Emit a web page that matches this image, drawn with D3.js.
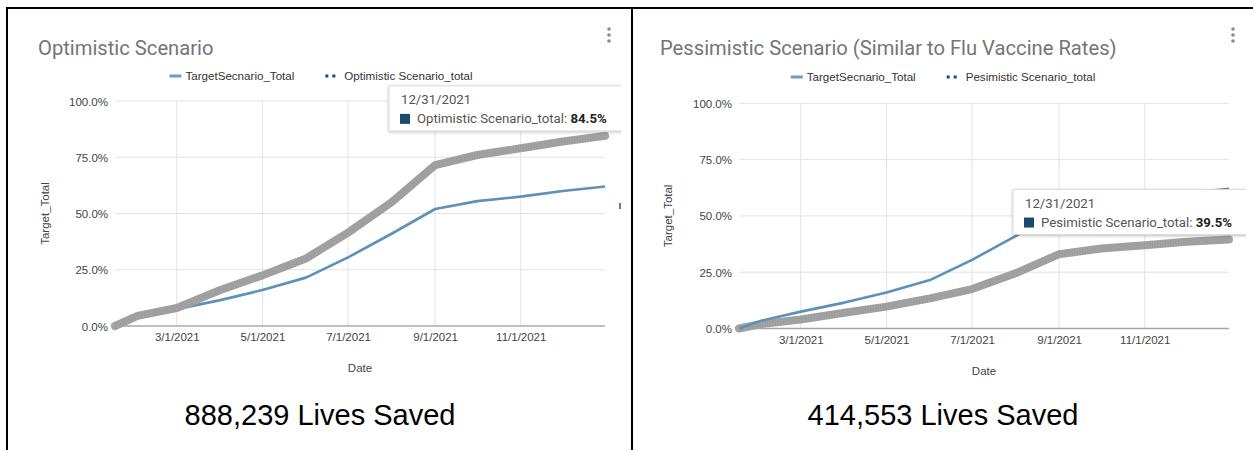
<!DOCTYPE html>
<html>
<head>
<meta charset="utf-8">
<script src="https://cdn.jsdelivr.net/npm/d3@7"></script>
<style>
  html, body { margin: 0; padding: 0; background: #fff; }
  svg { display: block; }
  .axis text { font-family: "Liberation Sans", Arial, sans-serif; font-size: 11.5px; fill: #444; }
</style>
</head>
<body>
<svg id="page" width="1253" height="450"></svg>
<script>
// Monthly snapshots of cumulative vaccination share (% of population)
const dates = ["2021-01-16", "2021-02-01", "2021-03-01", "2021-04-01", "2021-05-01", "2021-06-01",
               "2021-07-01", "2021-08-01", "2021-09-01", "2021-10-01", "2021-11-01", "2021-12-01", "2021-12-31"];
const targetScenarioTotal = [0, 3.5, 7.5, 11.5, 16, 21.5, 30.5, 41, 52, 55.5, 57.5, 60, 62];
const optimisticTotal     = [0, 4.5, 8, 16, 22.5, 30, 41.5, 55, 71.5, 76, 79, 82, 84.5];
const pessimisticTotal    = [0, 2, 4, 7, 9.7, 13.4, 17.5, 24.5, 33, 35.5, 37, 38.5, 39.5];

const xTickDates = ["2021-03-01", "2021-05-01", "2021-07-01", "2021-09-01", "2021-11-01"];
const yTickValues = [0, 25, 50, 75, 100];

const chartTitles = ["Optimistic Scenario", "Pessimistic Scenario (Similar to Flu Vaccine Rates)"];
const targetLegend = "TargetSecnario_Total";
const scenarioLegends = ["Optimistic Scenario_total", "Pesimistic Scenario_total"];
const livesSaved = [888239, 414553];

const parse = d3.timeParse("%Y-%m-%d");
const fmtDate = d3.timeFormat("%-m/%-d/%Y");
const fmtPct = d => d.toFixed(1) + "%";

const svg = d3.select("#page");

// drop shadow for the hover card
const defs = svg.append("defs");
const f = defs.append("filter").attr("id", "shadow").attr("x", "-10%").attr("y", "-30%")
  .attr("width", "130%").attr("height", "170%");
f.append("feDropShadow").attr("dx", 0).attr("dy", 1).attr("stdDeviation", 1.6)
  .attr("flood-color", "#000").attr("flood-opacity", 0.28);

// table frame
svg.append("line").attr("x1", 7).attr("x2", 1253).attr("y1", 8).attr("y2", 8)
  .attr("stroke", "#000").attr("stroke-width", 2);
[7, 632].forEach(x => svg.append("line").attr("x1", x).attr("x2", x).attr("y1", 7).attr("y2", 450)
  .attr("stroke", "#000").attr("stroke-width", 2));

const layouts = [
  { card: [9, 621], plot: [115, 605], y0: 326, y100: 101, titleX: 38, titleY: 55, legendY: 76,
    legendCx: 321, kebabX: 609, xTickY: 342, dateY: 372, yTitleX: 45, cellCx: 320 },
  { card: [634, 1246], plot: [739, 1229], y0: 328.5, y100: 103.3, titleX: 660, titleY: 55, legendY: 77,
    legendCx: 943, kebabX: 1233, xTickY: 345, dateY: 375, yTitleX: 668, cellCx: 943 }
];
const scenarios = [optimisticTotal, pessimisticTotal];

layouts.forEach((L, i) => {
  const series = scenarios[i];
  const clipId = "card" + i;
  defs.append("clipPath").attr("id", clipId).append("rect")
    .attr("x", L.card[0]).attr("y", 9).attr("width", L.card[1] - L.card[0]).attr("height", 385);

  const g = svg.append("g").attr("clip-path", `url(#${clipId})`);

  const x = d3.scaleTime().domain(d3.extent(dates, parse)).range(L.plot);
  const y = d3.scaleLinear().domain([0, 100]).range([L.y0, L.y100]);

  // title
  g.append("text").attr("x", L.titleX).attr("y", L.titleY)
    .style("font-family", "Roboto, sans-serif").style("font-size", "20.2px").style("fill", "#757575")
    .text(chartTitles[i]);

  // menu dots
  [29, 35, 41].forEach(cy => g.append("circle").attr("cx", L.kebabX).attr("cy", cy).attr("r", 1.8).attr("fill", "#8a8a8a"));

  // legend
  const lg = g.append("g").attr("transform", `translate(0,${L.legendY})`);
  const legendFont = s => s.style("font-family", "\"Liberation Sans\", Arial, sans-serif").style("font-size", "11.6px").style("fill", "#333");
  const t1 = lg.append("text").attr("y", 4).text(targetLegend).call(legendFont);
  const t2 = lg.append("text").attr("y", 4).text(scenarioLegends[i]).call(legendFont);
  const w1 = t1.node().getComputedTextLength(), w2 = t2.node().getComputedTextLength();
  const total = 16 + w1 + 31 + 19 + w2;
  let lx = L.legendCx - total / 2;
  lg.append("rect").attr("x", lx).attr("y", -1.5).attr("width", 12).attr("height", 3).attr("fill", "#6b9cc4");
  t1.attr("x", lx + 16);
  lx += 16 + w1 + 31;
  [0, 7].forEach(dx => lg.append("rect").attr("x", lx + dx).attr("y", -1.5).attr("width", 3).attr("height", 3).attr("fill", "#1d4a6c"));
  t2.attr("x", lx + 19);

  // grid
  g.append("g").selectAll("line").data(yTickValues.slice(1)).join("line")
    .attr("x1", L.plot[0]).attr("x2", L.plot[1]).attr("y1", d => y(d)).attr("y2", d => y(d))
    .attr("stroke", "#e3e3e3").attr("stroke-width", 1);
  g.append("g").selectAll("line").data(xTickDates.map(parse)).join("line")
    .attr("x1", d => x(d)).attr("x2", d => x(d)).attr("y1", y(100)).attr("y2", y(0))
    .attr("stroke", "#e3e3e3").attr("stroke-width", 1);

  // axes
  const yAxis = g.append("g").attr("class", "axis").attr("transform", `translate(${L.plot[0] - 7},0)`)
    .call(d3.axisLeft(y).tickValues(yTickValues).tickFormat(fmtPct).tickSize(0).tickPadding(0));
  yAxis.select(".domain").remove();
  yAxis.selectAll("text").attr("dy", "0.35em");

  const xAxis = g.append("g").attr("class", "axis").attr("transform", `translate(0,${L.xTickY - 9})`)
    .call(d3.axisBottom(x).tickValues(xTickDates.map(parse)).tickFormat(fmtDate).tickSize(0).tickPadding(0));
  xAxis.select(".domain").remove();
  xAxis.selectAll("text").attr("dy", "0.71em");

  g.append("line").attr("x1", L.plot[0]).attr("x2", L.plot[1]).attr("y1", y(0)).attr("y2", y(0))
    .attr("stroke", "#a8a8a8").attr("stroke-width", 1.5);

  // axis titles
  g.append("text").attr("x", (L.plot[0] + L.plot[1]) / 2).attr("y", L.dateY).attr("text-anchor", "middle")
    .style("font-family", "\"Liberation Sans\", Arial, sans-serif").style("font-size", "11.5px").style("fill", "#444")
    .text("Date");
  g.append("text").attr("transform", `translate(${L.yTitleX},${(L.y0 + L.y100) / 2}) rotate(-90)`)
    .attr("text-anchor", "middle").attr("dy", "0.35em")
    .style("font-family", "\"Liberation Sans\", Arial, sans-serif").style("font-size", "11.5px").style("fill", "#444")
    .text("Target_Total");

  // series
  const pts = s => dates.map((d, k) => [x(parse(d)), y(s[k])]);
  const line = d3.line();
  const scen = pts(series);
  if (i === 1) {
    // pessimistic band sits under the target line
    drawBand(g, line(scen));
    drawTarget(g, line(pts(targetScenarioTotal)));
  } else {
    drawTarget(g, line(pts(targetScenarioTotal)));
    drawBand(g, line(scen));
  }

  // small edge mark
  g.append("rect").attr("x", L.card[1] - 2).attr("y", L.y100 + 102).attr("width", 2).attr("height", 6).attr("fill", "#4a7fc0");

  // hover card on the last point
  const last = scen[scen.length - 1];
  const bx = last[0] - 216, by = last[1] - 50;
  const tip = g.append("g").attr("transform", `translate(${bx},${by})`);
  tip.append("rect").attr("width", 240).attr("height", 45).attr("fill", "#fff")
    .attr("stroke", "#d8d8d8").attr("stroke-width", 0.8).attr("filter", "url(#shadow)");
  tip.append("text").attr("x", 12).attr("y", 18)
    .style("font-family", "Roboto, sans-serif").style("font-size", "13.2px").style("fill", "#555")
    .text(fmtDate(parse(dates[dates.length - 1])));
  tip.append("rect").attr("x", 11).attr("y", 28).attr("width", 10).attr("height", 10).attr("fill", "#1d4a6c");
  const tt = tip.append("text").attr("x", 28).attr("y", 37.5)
    .style("font-family", "Roboto, sans-serif").style("font-size", "13.2px").style("fill", "#555");
  tt.append("tspan").text(scenarioLegends[i] + ": ");
  tt.append("tspan").style("font-weight", "bold").style("fill", "#222").text(fmtPct(series[series.length - 1]));

  // caption below the chart
  svg.append("text").attr("x", L.cellCx).attr("y", 425).attr("text-anchor", "middle")
    .style("font-family", "\"Liberation Sans\", Arial, sans-serif").style("font-size", "29px").style("fill", "#000")
    .text(d3.format(",")(livesSaved[i]) + " Lives Saved");
});

function drawTarget(g, d) {
  g.append("path").attr("d", d).attr("fill", "none").attr("stroke", "#5d91b9")
    .attr("stroke-width", 2.6).attr("stroke-linejoin", "round");
}
function drawBand(g, d) {
  g.append("path").attr("d", d).attr("fill", "none").attr("stroke", "#a4a4a4")
    .attr("stroke-width", 8).attr("stroke-linejoin", "round").attr("stroke-linecap", "round");
  g.append("path").attr("d", d).attr("fill", "none").attr("stroke", "#8e8e8e")
    .attr("stroke-width", 7).attr("stroke-dasharray", "1 1.6").attr("opacity", 0.45)
    .attr("stroke-linejoin", "round");
}
</script>
</body>
</html>
